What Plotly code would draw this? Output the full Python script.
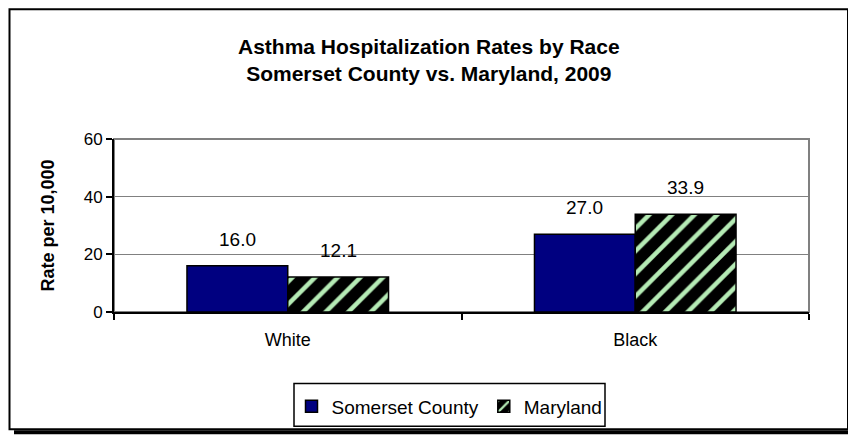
import plotly.graph_objects as go

categories = ["White", "Black"]
somerset = [16.0, 27.0]
maryland = [12.1, 33.9]
series_names = ["Somerset County", "Maryland"]
y_ticks = [0, 20, 40, 60]

# the page body has an 8px default margin, so the figure is offset by 8px
OFF = 8
W, H = 856 - OFF, 436 - OFF
PX0, PX1, PY0, PY1 = 114, 809, 139, 313   # plot area in window pixels
L, T = PX0 - OFF, PY0 - OFF
R, B = W - (PX1 - OFF), H - (PY1 - OFF)
PW, PH = PX1 - PX0, PY1 - PY0
BARGAP = 0.42

def px_x(p):
    return (p - PX0) / PW

def px_y(p):
    return (PY1 - p) / PH

FONT = "Liberation Sans, Arial, sans-serif"

fig = go.Figure()
fig.add_trace(go.Bar(
    name=series_names[0], x=categories, y=somerset,
    marker=dict(color="#000080", line=dict(color="black", width=1.5)),
))
fig.add_trace(go.Bar(
    name=series_names[1], x=categories, y=maryland,
    marker=dict(color="black", line=dict(color="black", width=1.5),
                pattern=dict(shape="/", bgcolor="black", fgcolor="#B5EBB5",
                             size=16, solidity=0.28, fillmode="replace")),
))

# data labels above bars
bw = (1 - BARGAP) / 2
annotations = []
for si, vals in enumerate([somerset, maryland]):
    for ci, v in enumerate(vals):
        annotations.append(dict(
            x=ci - bw / 2 + si * bw, y=v, xref="x", yref="y",
            text=f"{v:.1f}", showarrow=False, yanchor="bottom", yshift=14,
            font=dict(family=FONT, size=19, color="black")))

annotations.append(dict(
    x=px_x(429), y=px_y(59.5), xref="paper", yref="paper",
    text="<b>Asthma Hospitalization Rates by Race<br>Somerset County vs. Maryland, 2009</b>",
    showarrow=False, yanchor="middle", xanchor="center",
    font=dict(family=FONT, size=21, color="black")))

shapes = [
    # plot area border
    dict(type="rect", xref="paper", yref="paper", x0=0, x1=1, y0=0, y1=1,
         line=dict(color="#808080", width=2), layer="below"),
    # legend box
    dict(type="rect", xref="paper", yref="paper",
         x0=px_x(294), x1=px_x(605), y0=px_y(428), y1=px_y(385),
         line=dict(color="black", width=1.5)),
    # chart frame
    dict(type="rect", xref="paper", yref="paper",
         x0=px_x(9.5), x1=px_x(848), y0=px_y(431), y1=px_y(8.5),
         line=dict(color="black", width=2)),
    # shadow
    dict(type="rect", xref="paper", yref="paper",
         x0=px_x(849), x1=px_x(854), y0=px_y(436), y1=px_y(13),
         line=dict(width=0), fillcolor="black"),
    dict(type="rect", xref="paper", yref="paper",
         x0=px_x(14), x1=px_x(854), y0=px_y(436), y1=px_y(432),
         line=dict(width=0), fillcolor="black"),
]

fig.update_layout(
    width=W, height=H,
    margin=dict(l=L, r=R, t=T, b=B, pad=0),
    paper_bgcolor="white", plot_bgcolor="white",
    barmode="group", bargap=BARGAP, bargroupgap=0,
    font=dict(family=FONT, size=17, color="black"),
    showlegend=True,
    legend=dict(orientation="h", x=px_x(449.5), y=px_y(406.5), xanchor="center", yanchor="middle",
                borderwidth=0, bgcolor="rgba(0,0,0,0)",
                font=dict(family=FONT, size=19), itemwidth=30,
                tracegroupgap=0),
    annotations=annotations,
    shapes=shapes,
    xaxis=dict(showline=True, linecolor="black", linewidth=2,
               ticks="outside", tickson="boundaries", ticklen=6, tickwidth=1.5,
               tickcolor="black", showgrid=False, zeroline=False,
               tickfont=dict(family=FONT, size=18), ticklabelstandoff=10),
    yaxis=dict(range=[0, 60], tickvals=y_ticks, showline=True, linecolor="black",
               linewidth=2, ticks="outside", ticklen=6, tickwidth=1.5, tickcolor="black",
               showgrid=True, gridcolor="#808080", gridwidth=1, zeroline=False,
               tickfont=dict(family=FONT, size=17),
               title=dict(text="<b>Rate per 10,000</b>", font=dict(family=FONT, size=18),
                          standoff=24)),
)

fig.write_html("out.html")
